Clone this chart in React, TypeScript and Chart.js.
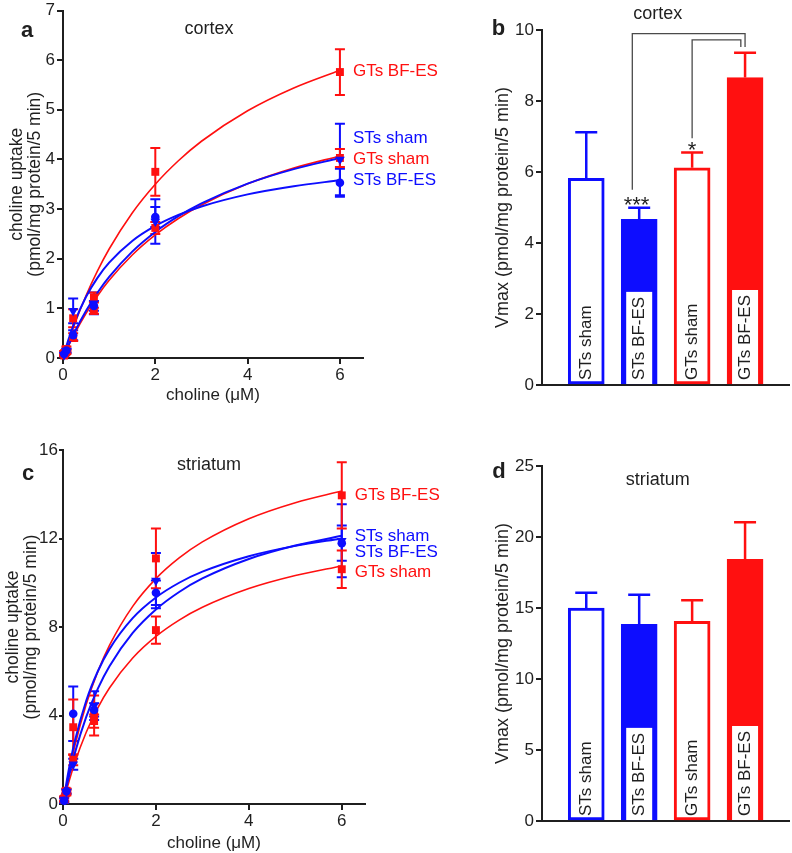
import React, { useEffect, useRef } from 'react';
import { Chart, registerables } from 'chart.js';

Chart.register(...registerables);

const FONT = '"Liberation Sans", Arial, Helvetica, sans-serif';
const BLUE = '#0d0dff';
const RED = '#ff1010';
const INK = '#1f1f1f';

// ---------- shared groups ----------
const groups = ['STs sham', 'STs BF-ES', 'GTs sham', 'GTs BF-ES'];
const groupColors = [BLUE, BLUE, RED, RED];
const groupFilled = [false, true, false, true];
const groupMarkers = ['triangle', 'circle', 'rect', 'rect'];

// ---------- kinetic panels (a, c) ----------
const cholineConc = [0.025, 0.074, 0.22, 0.67, 2, 6];
const fitConc = [0, 0.1, 0.25, 0.5, 0.75, 1, 1.5, 2, 2.5, 3, 4, 5, 6];
const kineticTicksX = [0, 2, 4, 6];

// panel a - cortex
const cortexTicksY = [0, 1, 2, 3, 4, 5, 6, 7];
const cortexSTsSham = [0.06, 0.14, 0.95, 1.1, 2.75, 4.0];
const cortexSTsShamSem = [0.03, 0.04, 0.25, 0.22, 0.45, 0.72];
const cortexSTsBFES = [0.08, 0.15, 0.46, 1.05, 2.84, 3.53];
const cortexSTsBFESSem = [0.03, 0.04, 0.1, 0.1, 0.2, 0.28];
const cortexGTsSham = [0.05, 0.12, 0.42, 0.95, 2.62, 4.03];
const cortexGTsShamSem = [0.02, 0.04, 0.08, 0.06, 0.12, 0.18];
const cortexGTsBFES = [0.1, 0.18, 0.8, 1.22, 3.75, 5.76];
const cortexGTsBFESSem = [0.04, 0.05, 0.18, 0.1, 0.48, 0.46];

const cortexFitSTsSham = [0, 0.22, 0.52, 0.953, 1.319, 1.633, 2.143, 2.539, 2.856, 3.115, 3.513, 3.805, 4.028];
const cortexFitSTsBFES = [0, 0.32, 0.719, 1.234, 1.62, 1.92, 2.358, 2.661, 2.883, 3.053, 3.296, 3.461, 3.581];
const cortexFitGTsSham = [0, 0.204, 0.486, 0.899, 1.255, 1.564, 2.075, 2.48, 2.81, 3.082, 3.508, 3.825, 4.07];
const cortexFitGTsBFES = [0, 0.285, 0.678, 1.258, 1.759, 2.196, 2.922, 3.501, 3.973, 4.366, 4.981, 5.441, 5.798];
const cortexLabelY = [4.43, 3.57, 4.0, 5.78];

// panel c - striatum
const striatumTicksY = [0, 4, 8, 12, 16];
const striatumSTsSham = [0.2, 0.55, 1.8, 4.45, 10.1, 11.9];
const striatumSTsShamSem = [0.1, 0.1, 0.25, 0.65, 1.25, 1.65];
const striatumSTsBFES = [0.15, 0.58, 4.08, 4.25, 9.55, 11.79];
const striatumSTsBFESSem = [0.1, 0.1, 1.23, 0.3, 0.55, 0.8];
const striatumGTsSham = [0.2, 0.5, 2.0, 3.75, 7.86, 10.61];
const striatumGTsShamSem = [0.1, 0.1, 0.25, 0.3, 0.62, 0.85];
const striatumGTsBFES = [0.25, 0.6, 3.47, 4.0, 11.1, 13.95];
const striatumGTsBFESSem = [0.1, 0.1, 1.25, 0.9, 1.35, 1.5];

const striatumFitSTsSham = [0, 0.997, 2.265, 3.934, 5.215, 6.229, 7.733, 8.794, 9.583, 10.193, 11.074, 11.68, 12.122];
const striatumFitSTsBFES = [0, 1.273, 2.8, 4.667, 6.0, 7.0, 8.4, 9.333, 10.0, 10.5, 11.2, 11.667, 12.0];
const striatumFitGTsSham = [0, 0.802, 1.842, 3.245, 4.35, 5.242, 6.595, 7.572, 8.311, 8.889, 9.736, 10.326, 10.761];
const striatumFitGTsBFES = [0, 1.134, 2.584, 4.505, 5.99, 7.171, 8.934, 10.186, 11.12, 11.845, 12.895, 13.62, 14.15];
const striatumLabelY = [12.12, 11.36, 10.46, 13.96];

// ---------- Vmax panels (b, d) ----------
const cortexVmaxTicks = [0, 2, 4, 6, 8, 10];
const cortexVmax = [5.82, 4.67, 6.12, 8.66];
const cortexVmaxSem = [1.3, 0.32, 0.43, 0.7];
const cortexBracketFrom = [0.87, 2.0];
const cortexBracketTo = [3.0, 2.92];
const cortexBracketTop = [9.9, 9.72];
const cortexBracketLeftEnd = [5.5, 6.95];
const cortexBracketRightEnd = [9.52, 9.52];
const cortexStarText = ['***', '*'];
const cortexStarX = [0.95, 2.0];
const cortexStarY = [5.22, 6.77];

const striatumVmaxTicks = [0, 5, 10, 15, 20, 25];
const striatumVmax = [15.0, 13.85, 14.07, 18.42];
const striatumVmaxSem = [1.07, 2.08, 1.48, 2.62];

// ---------- helpers ----------
const axisStyle = (tickLength: number) => ({
  grid: { display: true, drawOnChartArea: false, drawTicks: true, tickLength, color: INK, lineWidth: 2, offset: false },
  border: { display: true, color: INK, width: 2 },
});
const tickFont = { family: FONT, size: 17, lineHeight: 1 };

function drawRotated(ctx: CanvasRenderingContext2D, text: string, x: number, y: number, align: CanvasTextAlign) {
  ctx.save();
  ctx.translate(x, y);
  ctx.rotate(-Math.PI / 2);
  ctx.textAlign = align;
  ctx.textBaseline = 'middle';
  ctx.fillText(text, 0, 0);
  ctx.restore();
}

function drawPanelText(ctx: CanvasRenderingContext2D, s: any, area: any) {
  ctx.save();
  ctx.fillStyle = INK;
  ctx.textAlign = 'center';
  ctx.textBaseline = 'middle';
  ctx.font = `bold 22px ${FONT}`;
  ctx.fillText(s.letter, s.letterXY[0], s.letterXY[1]);
  ctx.font = `18px ${FONT}`;
  ctx.fillText(s.title, s.titleXY[0], s.titleXY[1]);
  const cy = (area.top + area.bottom) / 2;
  ctx.font = `${s.yTitleSize}px ${FONT}`;
  s.yTitle.forEach((line: string, k: number) => drawRotated(ctx, line, s.yTitleX[k], cy, 'center'));
  if (s.xTitle) {
    ctx.font = `17px ${FONT}`;
    ctx.fillText(s.xTitle, (area.left + area.right) / 2, s.xTitleY);
  }
  ctx.restore();
}

function kineticDecor(s: any) {
  return {
    id: 'kineticDecor',
    beforeDatasetsDraw(chart: any) {
      const { ctx, scales: { x, y } } = chart;
      ctx.save();
      ctx.lineWidth = 2;
      s.means.forEach((m: number[], g: number) => {
        ctx.strokeStyle = groupColors[g];
        m.forEach((v, i) => {
          const e = s.sems[g][i];
          const px = x.getPixelForValue(cholineConc[i]);
          const yHi = y.getPixelForValue(v + e);
          const yLo = y.getPixelForValue(Math.max(v - e, 0));
          ctx.beginPath();
          ctx.moveTo(px, yLo); ctx.lineTo(px, yHi);
          ctx.moveTo(px - 5, yHi); ctx.lineTo(px + 5, yHi);
          ctx.moveTo(px - 5, yLo); ctx.lineTo(px + 5, yLo);
          ctx.stroke();
        });
      });
      ctx.restore();
    },
    afterDraw(chart: any) {
      const { ctx, chartArea, scales: { x, y } } = chart;
      drawPanelText(ctx, s, chartArea);
      ctx.save();
      ctx.font = `17px ${FONT}`;
      ctx.textAlign = 'left';
      ctx.textBaseline = 'middle';
      const lx = x.getPixelForValue(cholineConc[cholineConc.length - 1]) + 13;
      groups.forEach((label, g) => {
        ctx.fillStyle = groupColors[g];
        ctx.fillText(label, lx, y.getPixelForValue(s.labelY[g]));
      });
      ctx.restore();
    },
  };
}

function kineticConfig(s: any): any {
  const datasets: any[] = [];
  s.fits.forEach((f: number[], g: number) =>
    datasets.push({
      data: fitConc.map((c, i) => ({ x: c, y: f[i] })),
      borderColor: groupColors[g],
      borderWidth: g < 2 ? 2 : 1.6,
      pointRadius: 0,
      cubicInterpolationMode: 'monotone',
      fill: false,
      order: 2,
    })
  );
  s.means.forEach((m: number[], g: number) =>
    datasets.push({
      data: cholineConc.map((c, i) => ({ x: c, y: m[i] })),
      showLine: false,
      pointStyle: groupMarkers[g],
      pointRadius: groupMarkers[g] === 'circle' ? 4.3 : 5.6,
      pointRotation: groupMarkers[g] === 'triangle' ? 180 : 0,
      pointBackgroundColor: groupColors[g],
      pointBorderColor: groupColors[g],
      pointBorderWidth: 0,
      borderColor: groupColors[g],
      backgroundColor: groupColors[g],
      order: 1,
      clip: false,
    })
  );
  return {
    type: 'line',
    data: { datasets },
    options: {
      animation: false,
      responsive: false,
      devicePixelRatio: 1,
      layout: { padding: { top: s.pad.top, right: s.pad.right, left: 0, bottom: 0 } },
      plugins: { legend: { display: false }, tooltip: { enabled: false } },
      scales: {
        x: {
          type: 'linear', min: 0, max: 6.5,
          afterFit: (sc: any) => { sc.height = s.xAxisH; },
          afterBuildTicks: (sc: any) => { sc.ticks = kineticTicksX.map((v) => ({ value: v })); },
          ticks: { font: tickFont, color: INK, padding: 3, maxRotation: 0 },
          ...axisStyle(6),
        },
        y: {
          type: 'linear', min: 0, max: s.yMax,
          afterFit: (sc: any) => { sc.width = 63; },
          afterBuildTicks: (sc: any) => { sc.ticks = s.yTicks.map((v: number) => ({ value: v })); },
          ticks: { font: tickFont, color: INK, padding: s.yTickPad },
          ...axisStyle(s.yTickLen),
        },
      },
    },
    plugins: [kineticDecor(s)],
  };
}

function barDecor(s: any) {
  return {
    id: 'barDecor',
    afterDatasetsDraw(chart: any) {
      const { ctx, chartArea, scales: { x, y } } = chart;
      const axisY = y.getPixelForValue(0);
      ctx.save();
      // error bars (upper only)
      s.values.forEach((v: number, i: number) => {
        const cx = x.getPixelForValue(i);
        const y0 = y.getPixelForValue(v);
        const y1 = y.getPixelForValue(v + s.sems[i]);
        ctx.strokeStyle = groupColors[i];
        ctx.lineWidth = 2.5;
        ctx.beginPath();
        ctx.moveTo(cx, y0); ctx.lineTo(cx, y1);
        ctx.moveTo(cx - 11, y1); ctx.lineTo(cx + 11, y1);
        ctx.stroke();
      });
      // in-bar labels
      ctx.font = `17px ${FONT}`;
      groups.forEach((label, i) => {
        const cx = x.getPixelForValue(i);
        const w = ctx.measureText(label).width;
        if (groupFilled[i]) {
          ctx.fillStyle = '#ffffff';
          ctx.fillRect(cx - 13, axisY - w - 10, 26, w + 9);
        }
        ctx.fillStyle = INK;
        drawRotated(ctx, label, cx, axisY - 5, 'left');
      });
      // significance brackets
      if (s.brackets) {
        const b = s.brackets;
        ctx.strokeStyle = '#4a4a4a';
        ctx.lineWidth = 1.3;
        b.from.forEach((f: number, k: number) => {
          const x1 = x.getPixelForValue(f);
          const x2 = x.getPixelForValue(b.to[k]);
          const yt = y.getPixelForValue(b.top[k]);
          ctx.beginPath();
          ctx.moveTo(x1, y.getPixelForValue(b.leftEnd[k]));
          ctx.lineTo(x1, yt);
          ctx.lineTo(x2, yt);
          ctx.lineTo(x2, y.getPixelForValue(b.rightEnd[k]));
          ctx.stroke();
        });
        ctx.fillStyle = INK;
        ctx.font = `22px ${FONT}`;
        ctx.textAlign = 'center';
        ctx.textBaseline = 'alphabetic';
        s.stars.text.forEach((t: string, k: number) => {
          ctx.fillText(t, x.getPixelForValue(s.stars.x[k]), y.getPixelForValue(s.stars.y[k]) + 12);
        });
      }
      ctx.restore();
      drawPanelText(ctx, s, chartArea);
    },
  };
}

function barConfig(s: any): any {
  return {
    type: 'bar',
    data: {
      datasets: [
        {
          data: s.values.map((v: number, i: number) => ({ x: i, y: v })),
          backgroundColor: groups.map((_, i) => (groupFilled[i] ? groupColors[i] : '#ffffff')),
          borderColor: groupColors,
          borderWidth: 3,
          borderSkipped: false,
          barThickness: 36,
        },
      ],
    },
    options: {
      animation: false,
      responsive: false,
      devicePixelRatio: 1,
      layout: { padding: { top: s.padTop, right: 3, left: 0, bottom: 0 } },
      plugins: { legend: { display: false }, tooltip: { enabled: false } },
      scales: {
        x: {
          type: 'linear', min: -0.836, max: 3.83, offset: false,
          afterFit: (sc: any) => { sc.height = s.xAxisH; },
          ticks: { display: false },
          grid: { display: false, offset: false },
          border: { display: true, color: INK, width: 2 },
        },
        y: {
          type: 'linear', min: 0, max: s.yMax,
          afterFit: (sc: any) => { sc.width = 82; },
          afterBuildTicks: (sc: any) => { sc.ticks = s.yTicks.map((v: number) => ({ value: v })); },
          ticks: { font: tickFont, color: INK, padding: 2 },
          ...axisStyle(6),
        },
      },
    },
    plugins: [barDecor(s)],
  };
}

// ---------- panel specs ----------
const cortexSpec = {
  means: [cortexSTsSham, cortexSTsBFES, cortexGTsSham, cortexGTsBFES],
  sems: [cortexSTsShamSem, cortexSTsBFESSem, cortexGTsShamSem, cortexGTsBFESSem],
  fits: [cortexFitSTsSham, cortexFitSTsBFES, cortexFitGTsSham, cortexFitGTsBFES],
  labelY: cortexLabelY,
  yMax: 7, yTicks: cortexTicksY, yTickLen: 6, yTickPad: 2,
  pad: { top: 9, right: 97 }, xAxisH: 52,
  title: 'cortex', titleXY: [209, 29],
  letter: 'a', letterXY: [27, 31],
  yTitle: ['choline uptake', '(pmol/mg protein/5 min)'], yTitleX: [17, 35], yTitleSize: 17.5,
  xTitle: 'choline (\u03bcM)', xTitleY: 395,
};

const striatumSpec = {
  means: [striatumSTsSham, striatumSTsBFES, striatumGTsSham, striatumGTsBFES],
  sems: [striatumSTsShamSem, striatumSTsBFESSem, striatumGTsShamSem, striatumGTsBFESSem],
  fits: [striatumFitSTsSham, striatumFitSTsBFES, striatumFitGTsSham, striatumFitGTsBFES],
  labelY: striatumLabelY,
  yMax: 16, yTicks: striatumTicksY, yTickLen: 4, yTickPad: 1,
  pad: { top: 30, right: 95 }, xAxisH: 49,
  title: 'striatum', titleXY: [209, 45],
  letter: 'c', letterXY: [28, 54],
  yTitle: ['choline uptake', '(pmol/mg protein/5 min)'], yTitleX: [13, 31], yTitleSize: 17.5,
  xTitle: 'choline (\u03bcM)', xTitleY: 423,
};

const cortexBarSpec = {
  values: cortexVmax, sems: cortexVmaxSem,
  yMax: 10, yTicks: cortexVmaxTicks,
  padTop: 30, xAxisH: 35,
  title: 'cortex', titleXY: [197.7, 14],
  letter: 'b', letterXY: [38.5, 29],
  yTitle: ['Vmax (pmol/mg protein/5 min)'], yTitleX: [43.5], yTitleSize: 18,
  brackets: {
    from: cortexBracketFrom, to: cortexBracketTo, top: cortexBracketTop,
    leftEnd: cortexBracketLeftEnd, rightEnd: cortexBracketRightEnd,
  },
  stars: { text: cortexStarText, x: cortexStarX, y: cortexStarY },
};

const striatumBarSpec = {
  values: striatumVmax, sems: striatumVmaxSem,
  yMax: 25, yTicks: striatumVmaxTicks,
  padTop: 46, xAxisH: 32,
  title: 'striatum', titleXY: [197.7, 60],
  letter: 'd', letterXY: [39, 52],
  yTitle: ['Vmax (pmol/mg protein/5 min)'], yTitleX: [43.5], yTitleSize: 18,
};

function ChartCanvas(props: { make: () => any; left: number; top: number; width: number; height: number }) {
  const ref = useRef<HTMLCanvasElement>(null);
  useEffect(() => {
    const chart = new Chart(ref.current as HTMLCanvasElement, props.make());
    return () => chart.destroy();
  }, []);
  return (
    <canvas
      ref={ref}
      width={props.width}
      height={props.height}
      style={{ position: 'absolute', left: props.left, top: props.top, width: props.width, height: props.height }}
    />
  );
}

export default function App() {
  return (
    <div style={{ position: 'absolute', left: 0, top: 0, width: 792, height: 853, background: '#ffffff', overflow: 'hidden' }}>
      <ChartCanvas left={0} top={0} width={460} height={410} make={() => kineticConfig(cortexSpec)} />
      <ChartCanvas left={460} top={0} width={332} height={420} make={() => barConfig(cortexBarSpec)} />
      <ChartCanvas left={0} top={420} width={460} height={433} make={() => kineticConfig(striatumSpec)} />
      <ChartCanvas left={460} top={420} width={332} height={433} make={() => barConfig(striatumBarSpec)} />
    </div>
  );
}
